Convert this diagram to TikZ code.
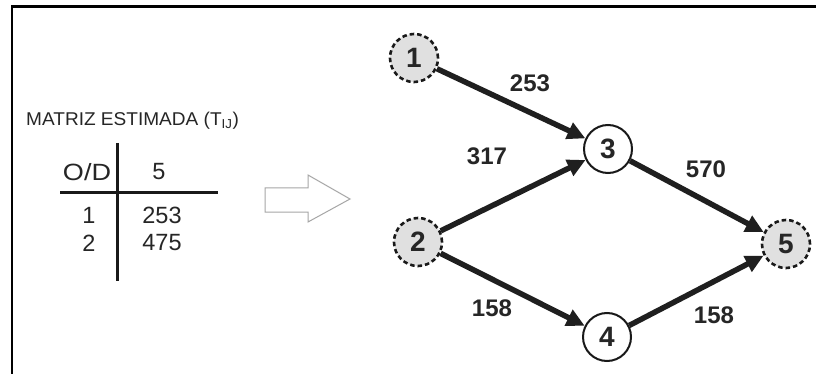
\documentclass[tikz,border=0pt]{standalone}
\usepackage{fontspec}
\setmainfont{Liberation Sans}
\usepackage{graphicx}
\usetikzlibrary{arrows.meta}

\begin{document}
\begin{tikzpicture}[x=1pt,y=-1pt,
  station/.style={circle, draw=black!90, line width=2pt, minimum size=48pt,
    inner sep=0pt, fill=white, text=black!85,
    font=\fontsize{28}{28}\selectfont\bfseries},
  zone/.style={station, dash pattern=on 4.5pt off 3pt, line width=2.6pt,
    fill=black!12},
  flow/.style={line width=5.5pt, draw=black!88,
    -{Triangle[length=18pt,width=17pt]}},
  vol/.style={font=\fontsize{24}{24}\selectfont\bfseries, text=black!85,
    inner sep=0pt},
  cell/.style={font=\fontsize{23.5}{23.5}\selectfont, text=black!85, inner sep=0pt},
  rule/.style={line width=3pt, draw=black!90}
]
\useasboundingbox (0,0) rectangle (816,374);
\fill[white] (0,0) rectangle (816,374);

% frame: left and top edges only
\coordinate (fbl) at (12,374);
\coordinate (ftl) at (12,6.5);
\coordinate (ftr) at (816,6.5);
\draw[line width=2.5pt] (fbl) -- (ftl) -- (ftr);

% estimated matrix
\node[anchor=west, inner sep=0pt, text=black!85,
  font=\fontsize{18.5}{18.5}\selectfont] (title) at (26,121)
  {\scalebox{1.03}[1]{MATRIZ ESTIMADA (T\textsubscript{IJ})}};
\coordinate (vt) at (117,143);
\coordinate (vb) at (117,281);
\coordinate (hl) at (60,193);
\coordinate (hr) at (218,193);
\draw[rule] (vt) -- (vb);
\draw[rule] (hl) -- (hr);
\node[cell] (od) at (87,172) {\scalebox{1.15}[1]{O/D}};
\node[cell] (c5) at (159,172) {5};
\node[cell] (r1) at (89,215) {1};
\node[cell] (v1) at (162,215) {253};
\node[cell] (r2) at (89,243) {2};
\node[cell] (v2) at (162,243) {475};

% hollow arrow
\draw[draw=black!35, line width=1pt, fill=white]
  (265,188) -- (308,188) -- (308,175) -- (350,199) -- (308,222)
  -- (308,212) -- (265,212) -- cycle;

% network
\node[zone] (n1) at (414,58) {1};
\node[zone] (n2) at (418,242) {2};
\node[station] (n3) at (608,149) {3};
\node[station] (n4) at (607,337) {4};
\node[zone] (n5) at (786,244) {5};

\draw[flow] (n1) -- (n3);
\draw[flow] (n2) -- (n3);
\draw[flow] (n3) -- (n5);
\draw[flow] (n2) -- (n4);
\draw[flow] (n4) -- (n5);

\node[vol] (l13) at (530,83) {253};
\node[vol] (l23) at (487,156) {317};
\node[vol] (l35) at (706,169) {570};
\node[vol] (l24) at (492,308) {158};
\node[vol] (l45) at (714,315) {158};
\end{tikzpicture}
\end{document}
